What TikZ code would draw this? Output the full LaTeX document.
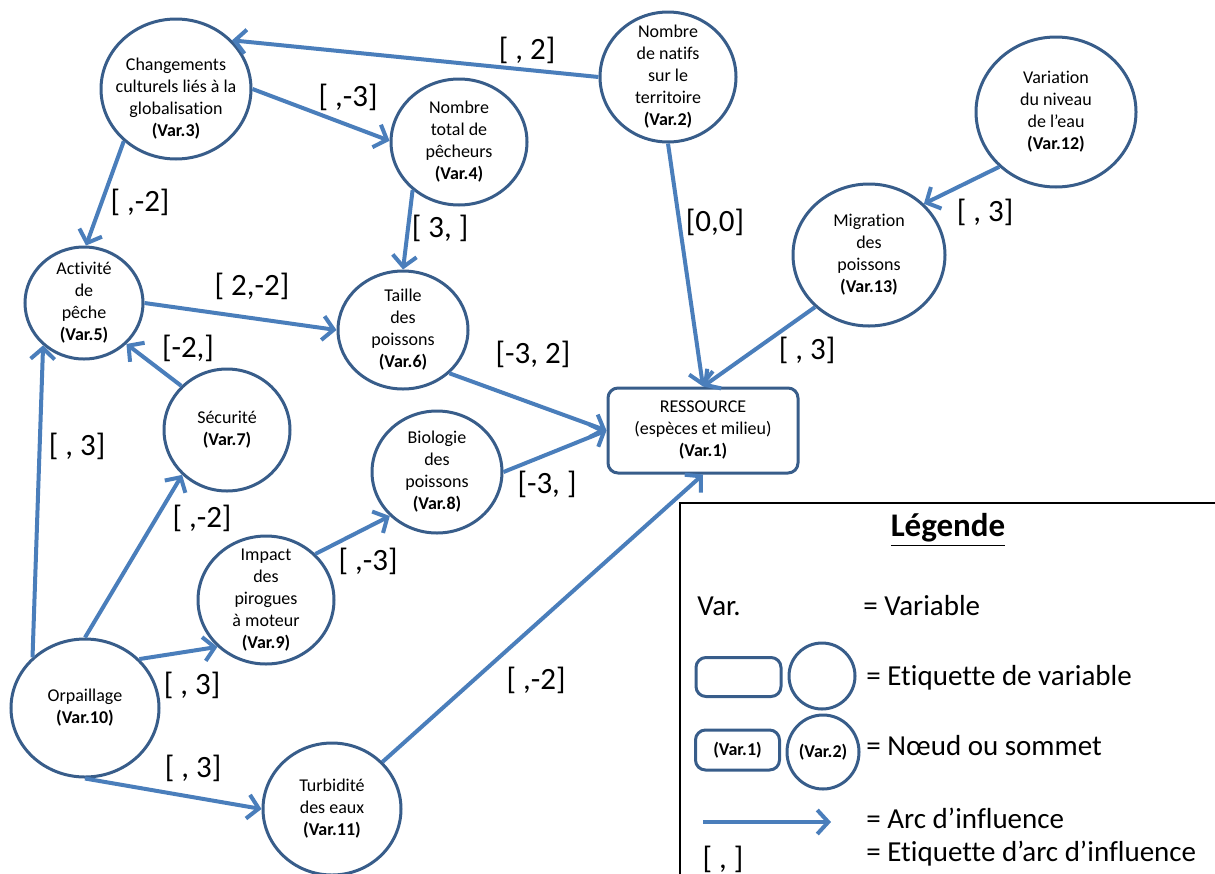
\documentclass[tikz,border=0pt]{standalone}
\usepackage{fontspec}
\setmainfont{Carlito}[Ligatures=NoCommon]
\setsansfont{Carlito}[Ligatures=NoCommon]
\usepackage{tikz}
\usetikzlibrary{positioning,calc,shapes.geometric,arrows.meta}
\definecolor{NodeBlue}{RGB}{56,93,138}
\definecolor{ArcBlue}{RGB}{74,126,187}
\tikzstyle{every picture}+=[font=\sffamily]
\tikzset{%
  variable/.style 2 args={%
    shape=ellipse, draw=NodeBlue, line width=1.5pt,
    minimum width=#1pt, minimum height=#2pt,
    inner sep=-6pt, align=center, text=black,
    font=\sffamily\fontsize{9}{11}\selectfont
  },
  ressource/.style={%
    shape=rectangle, draw=NodeBlue, line width=1.5pt, rounded corners=5pt,
    minimum width=95pt, minimum height=42.5pt, align=center,
    font=\sffamily\fontsize{9}{11}\selectfont
  },
  arrow/.style={ArcBlue, line width=2pt, -{Straight Barb[length=5.5pt,width=12pt]}},
  weight/.style={font=\sffamily\fontsize{15.5}{18}\selectfont, inner sep=1pt},
  legend/.style={font=\sffamily\fontsize{14.5}{17}\selectfont, inner sep=0pt, anchor=west},
}

\begin{document}
\begin{tikzpicture}[x=0.5pt, y=-0.5pt]
        \useasboundingbox (0,0) rectangle (1215,873);
        \clip (0,0) rectangle (1215,873);

        % variables
        \node (RESSOURCE)[ressource] at (703,430.5) {RESSOURCE\\(espèces et milieu)\\\textbf{(Var.1)}};
        \node (NATIFS)[variable={68}{65}] at (668,77) {Nombre\\de natifs\\sur le\\territoire\\\textbf{(Var.2)}};
        \node (CHANGEMENTS)[variable={75}{70}] at (176,89) {\rule{0pt}{15.5pt}Changements\\culturels liés à la\\globalisation\\\textbf{(Var.3)}};
        \node (PECHEURS)[variable={68}{63}] at (459,142) {Nombre\\total de\\pêcheurs\\\textbf{(Var.4)}};
        \node (ACTIVITE)[variable={59}{56}] at (84,303) {Activité\\de\\pêche\\\textbf{(Var.5)}};
        \node (TAILLE)[variable={65}{59}] at (403,330) {Taille\\des\\poissons\\\textbf{(Var.6)}};
        \node (SECURITE)[variable={63}{61}] at (227,430) {Sécurité\\\textbf{(Var.7)}};
        \node (BIOLOGIE)[variable={65}{61}] at (437,472) {Biologie\\des\\poissons\\\textbf{(Var.8)}};
        \node (PIROGUES)[variable={68}{64}] at (266,600) {Impact\\des\\pirogues\\à moteur\\\textbf{(Var.9)}};
        \node (ORPAILLAGE)[variable={74}{69}] at (85,708) {Orpaillage\\\textbf{(Var.10)}};
        \node (TURBIDITE)[variable={69}{66}] at (332,809) {Turbidité\\des eaux\\\textbf{(Var.11)}};
        \node (NIVEAU)[variable={80}{75}] at (1056,112) {Variation\\du niveau\\de l’eau\\\textbf{(Var.12)}};
        \node (MIGRATION)[variable={76}{71}] at (869,255) {Migration\\des\\poissons\\\textbf{(Var.13)}};

        \path[arrow]
            (NATIFS.180) edge (CHANGEMENTS.41)
            (CHANGEMENTS.0) edge (PECHEURS.179)
            (CHANGEMENTS.225) edge (ACTIVITE.88)
            (PECHEURS.226) edge (TAILLE.90)
            (ACTIVITE.0) edge (TAILLE.180)
            (TAILLE.317) edge (RESSOURCE.west)
            (NATIFS.270) edge (RESSOURCE.north)
            (NIVEAU.224) edge (MIGRATION.43)
            (MIGRATION.224) edge (RESSOURCE.north)
            (SECURITE.136) edge (ACTIVITE.316)
            (BIOLOGIE.0) edge (RESSOURCE.west)
            (ORPAILLAGE.136) edge (ACTIVITE.226)
            (ORPAILLAGE.90) edge (SECURITE.225)
            (PIROGUES.43) edge (BIOLOGIE.223)
            (ORPAILLAGE.42) edge (PIROGUES.224)
            (ORPAILLAGE.270) edge (TURBIDITE.180)
            (TURBIDITE.43) edge (RESSOURCE.south)
        ;

        % arc labels
        \node (WNATIFSCHANG)[weight] at (527,50) {[ , 2]};
        \node (WCHANGPECH)[weight] at (348,97) {[ ,-3]};
        \node (WCHANGACT)[weight] at (140,202) {[ ,-2]};
        \node (WPECHTAILLE)[weight] at (440,228) {[ 3, ]};
        \node (WACTTAILLE)[weight] at (252,286) {[ 2,-2]};
        \node (WSECACT)[weight] at (188,348) {[-2,]};
        \node (WTAILLERES)[weight] at (533,354) {[-3, 2]};
        \node (WNATIFSRES)[weight] at (715,222) {[0,0]};
        \node (WNIVMIG)[weight] at (985,212) {[ , 3]};
        \node (WMIGRES)[weight] at (807,350) {[ , 3]};
        \node (WBIORES)[weight] at (547,484) {[-3, ]};
        \node (WORPACT)[weight] at (77,446) {[ , 3]};
        \node (WORPSEC)[weight] at (202,518) {[ ,-2]};
        \node (WPIRBIO)[weight] at (368,561) {[ ,-3]};
        \node (WORPPIR)[weight] at (192,685) {[ , 3]};
        \node (WORPTURB)[weight] at (193,768) {[ , 3]};
        \node (WTURBRES)[weight] at (536,680) {[ ,-2]};

        % legend
        \draw[line width=1pt] (680,503) rectangle (1230,890);
        \node (TITRE)[font=\sffamily\bfseries\fontsize{16.5}{20}\selectfont] at (948,530) {\underline{Légende}};
        \node (VAR)[legend] at (697,606) {Var.};
        \node (VARDEF)[legend] at (863,606) {= Variable};
        \node (LEGRECT)[ressource, minimum width=42.5pt, minimum height=19.5pt] at (738.5,677) {};
        \node (LEGCIRCLE)[variable={33}{33}] at (822,676) {};
        \node (ETIQDEF)[legend] at (866,678) {= Etiquette de variable};
        \node (LEGVARONE)[ressource, minimum width=42pt, minimum height=20pt] at (737.5,750) {\textbf{(Var.1)}};
        \node (LEGVARTWO)[variable={36}{37}] at (823,752) {\textbf{(Var.2)}};
        \node (NOEUDDEF)[legend] at (866,746) {= Nœud ou sommet};
        \coordinate (ARCSTART) at (703,822);
        \coordinate (ARCEND) at (831,822);
        \draw[arrow] (ARCSTART) -- (ARCEND);
        \node (ARCDEF)[legend] at (866,818) {= Arc d’influence};
        \node (ETIQ)[weight] at (723,859) {[ , ]};
        \node (ETIQARCDEF)[legend] at (866,854) {= Etiquette d’arc d’influence};
    \end{tikzpicture}
\end{document}
